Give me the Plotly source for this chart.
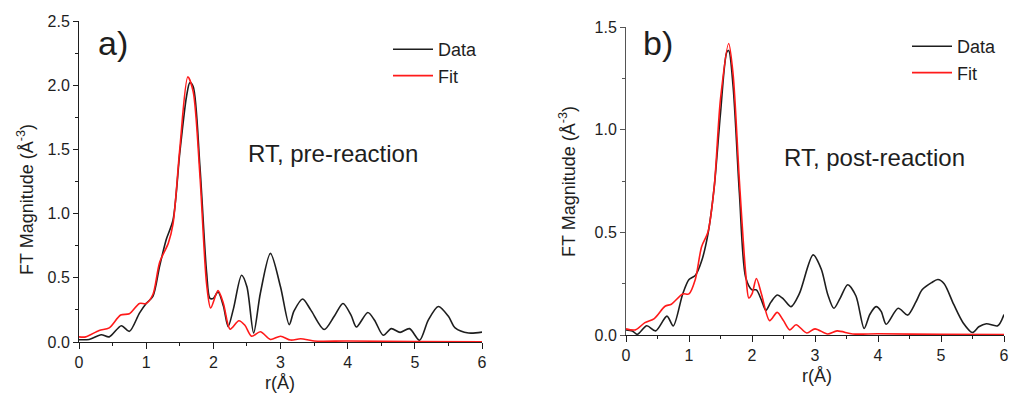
import plotly.graph_objects as go

# ---------------- Panel a: RT, pre-reaction ----------------
r_data_a = [0, 0.15, 0.33, 0.45, 0.63, 0.75, 0.9, 1.0, 1.1, 1.2, 1.3, 1.4, 1.5, 1.6, 1.65, 1.7,
            1.8, 1.9, 1.95, 2.0, 2.07, 2.15, 2.22, 2.3, 2.42, 2.5, 2.6, 2.7, 2.85, 3.0, 3.13,
            3.2, 3.33, 3.45, 3.65, 3.8, 3.93, 4.05, 4.13, 4.3, 4.4, 4.53, 4.65, 4.78, 4.92,
            5.07, 5.2, 5.35, 5.5, 5.6, 5.8, 6.0]
ft_data_a = [0.018, 0.02, 0.057, 0.04, 0.127, 0.083, 0.225, 0.30, 0.355, 0.59, 0.80, 0.95, 1.47,
             1.91, 2.02, 1.99, 1.37, 0.54, 0.34, 0.34, 0.39, 0.28, 0.12, 0.26, 0.52, 0.43, 0.07,
             0.38, 0.69, 0.43, 0.135, 0.24, 0.335, 0.25, 0.097, 0.20, 0.30, 0.21, 0.117, 0.23,
             0.17, 0.052, 0.104, 0.075, 0.104, 0.013, 0.17, 0.277, 0.20, 0.11, 0.07, 0.077]

r_fit_a = [0, 0.1, 0.3, 0.45, 0.62, 0.75, 0.9, 1.0, 1.1, 1.2, 1.33, 1.4, 1.5, 1.62, 1.7, 1.8,
           1.9, 1.96, 2.07, 2.15, 2.25, 2.38, 2.47, 2.57, 2.7, 2.85, 3.0, 3.15, 3.3, 3.5, 4.0,
           5.0, 6.0]
ft_fit_a = [0.04, 0.04, 0.09, 0.11, 0.21, 0.22, 0.30, 0.30, 0.37, 0.62, 0.77, 0.92, 1.50, 2.065,
            1.95, 1.30, 0.45, 0.265, 0.40, 0.30, 0.10, 0.165, 0.13, 0.045, 0.08, 0.02, 0.045,
            0.015, 0.025, 0.008, 0.008, 0.003, 0.002]

# ---------------- Panel b: RT, post-reaction ----------------
r_data_b = [0, 0.1, 0.18, 0.33, 0.47, 0.65, 0.75, 0.9, 1.0, 1.1, 1.2, 1.3, 1.4, 1.5, 1.6, 1.63,
            1.7, 1.8, 1.9, 2.0, 2.07, 2.15, 2.22, 2.3, 2.4, 2.5, 2.62, 2.75, 2.97, 3.1, 3.2,
            3.3, 3.4, 3.52, 3.65, 3.78, 3.87, 3.97, 4.05, 4.13, 4.32, 4.47, 4.6, 4.7, 4.85,
            4.95, 5.05, 5.2, 5.35, 5.5, 5.6, 5.72, 5.9, 6.0]
ft_data_b = [0.025, 0.02, 0.003, 0.045, 0.02, 0.092, 0.044, 0.20, 0.27, 0.29, 0.36, 0.49, 0.72,
             1.08, 1.378, 1.385, 1.21, 0.69, 0.28, 0.22, 0.22, 0.17, 0.12, 0.16, 0.195, 0.175,
             0.138, 0.20, 0.39, 0.32, 0.20, 0.13, 0.18, 0.245, 0.19, 0.032, 0.10, 0.138, 0.115,
             0.052, 0.13, 0.097, 0.16, 0.22, 0.255, 0.27, 0.25, 0.15, 0.06, 0.012, 0.04, 0.055,
             0.045, 0.10]

r_fit_b = [0, 0.15, 0.3, 0.45, 0.62, 0.72, 0.9, 1.0, 1.1, 1.2, 1.3, 1.4, 1.5, 1.63, 1.7, 1.8,
           1.9, 1.95, 2.0, 2.07, 2.15, 2.28, 2.4, 2.5, 2.6, 2.7, 2.87, 3.0, 3.2, 3.35, 3.6,
           4.0, 5.0, 6.0]
ft_fit_b = [0.03, 0.025, 0.06, 0.08, 0.14, 0.15, 0.20, 0.20, 0.27, 0.43, 0.50, 0.72, 1.15, 1.42,
            1.27, 0.75, 0.30, 0.18, 0.20, 0.275, 0.20, 0.07, 0.11, 0.07, 0.025, 0.05, 0.01,
            0.03, 0.005, 0.02, 0.005, 0.006, 0.003, 0.002]

series_names = ["Data", "Fit"]
panel_labels = ["a)", "b)"]
panel_notes = ["RT, pre-reaction", "RT, post-reaction"]
x_title = "r(Å)"
y_title = "FT Magnitude (Å<sup>-3</sup>)"

W, H = 1010, 393
FONT = "Liberation Sans, Arial, sans-serif"
BLACK = "#1e1e1e"
RED = "#ff1a1a"

def px_x(p):
    return p / W

def px_y(p):
    return 1 - p / H

fig = go.Figure()

fig.add_trace(go.Scatter(x=r_data_a, y=ft_data_a, mode="lines", name=series_names[0],
                         line=dict(color=BLACK, width=1.6, shape="spline", smoothing=0.8),
                         xaxis="x", yaxis="y", legend="legend"))
fig.add_trace(go.Scatter(x=r_fit_a, y=ft_fit_a, mode="lines", name=series_names[1],
                         line=dict(color=RED, width=1.6, shape="spline", smoothing=0.8),
                         xaxis="x", yaxis="y", legend="legend"))
fig.add_trace(go.Scatter(x=r_data_b, y=ft_data_b, mode="lines", name=series_names[0],
                         line=dict(color=BLACK, width=1.6, shape="spline", smoothing=0.8),
                         xaxis="x2", yaxis="y2", legend="legend2"))
fig.add_trace(go.Scatter(x=r_fit_b, y=ft_fit_b, mode="lines", name=series_names[1],
                         line=dict(color=RED, width=1.6, shape="spline", smoothing=0.8),
                         xaxis="x2", yaxis="y2", legend="legend2"))

def xaxis_style(domain, anchor):
    return dict(domain=domain, anchor=anchor, range=[0, 6], dtick=1, tick0=0,
                automargin=False,
                showgrid=False, zeroline=False, showline=True, linecolor=BLACK, linewidth=1,
                ticks="outside", ticklen=6, tickwidth=1, tickcolor=BLACK,
                minor=dict(ticks="outside", ticklen=3, dtick=0.5, tickcolor=BLACK, showgrid=False),
                tickfont=dict(family=FONT, size=16, color=BLACK), fixedrange=True)

def yaxis_style(domain, anchor, top, lc):
    return dict(domain=domain, anchor=anchor, range=[0, top], dtick=0.5, tick0=0,
                tickformat=".1f", automargin=False,
                showgrid=False, zeroline=False, showline=True, linecolor=lc, linewidth=1,
                ticks="outside", ticklen=5, tickwidth=1, tickcolor=lc,
                minor=dict(ticks="outside", ticklen=3, dtick=0.25, tickcolor=lc, showgrid=False),
                tickfont=dict(family=FONT, size=16, color=BLACK), fixedrange=True)

fig.update_layout(
    width=W, height=H,
    margin=dict(l=0, r=0, t=0, b=0),
    paper_bgcolor="white", plot_bgcolor="white",
    font=dict(family=FONT, color=BLACK),
    xaxis=xaxis_style([px_x(79), px_x(482)], "y"),
    yaxis=yaxis_style([px_y(342), px_y(21)], "x", 2.5, BLACK),
    xaxis2=xaxis_style([px_x(626), px_x(1004)], "y2"),
    yaxis2=yaxis_style([px_y(335), px_y(27)], "x2", 1.5, "#555555"),
    legend=dict(x=px_x(388), y=px_y(31), xanchor="left", yanchor="top",
                bgcolor="rgba(0,0,0,0)", font=dict(family=FONT, size=18, color=BLACK),
                itemwidth=40, tracegroupgap=0),
    legend2=dict(x=px_x(907), y=px_y(28), xanchor="left", yanchor="top",
                 bgcolor="rgba(0,0,0,0)", font=dict(family=FONT, size=18, color=BLACK),
                 itemwidth=40, tracegroupgap=0),
)

annots = [
    dict(text=panel_labels[0], x=px_x(113), y=px_y(43), font=dict(size=34)),
    dict(text=panel_labels[1], x=px_x(658), y=px_y(43), font=dict(size=34)),
    dict(text=panel_notes[0], x=px_x(333), y=px_y(153), font=dict(size=24)),
    dict(text=panel_notes[1], x=px_x(874), y=px_y(158), font=dict(size=24)),
    dict(text=x_title, x=px_x(280), y=px_y(383), font=dict(size=18)),
    dict(text=x_title, x=px_x(817), y=px_y(376), font=dict(size=18)),
    dict(text=y_title, x=px_x(25), y=px_y(200), font=dict(size=18), textangle=-90),
    dict(text=y_title, x=px_x(567), y=px_y(182), font=dict(size=18), textangle=-90),
]
for a in annots:
    a.update(xref="paper", yref="paper", showarrow=False, xanchor="center", yanchor="middle")
    a["font"].update(family=FONT, color=BLACK)
    fig.add_annotation(**a)

fig.write_html("out.html", config={"displayModeBar": False},
               post_script="document.body.style.margin='0';document.body.style.overflow='hidden';")
